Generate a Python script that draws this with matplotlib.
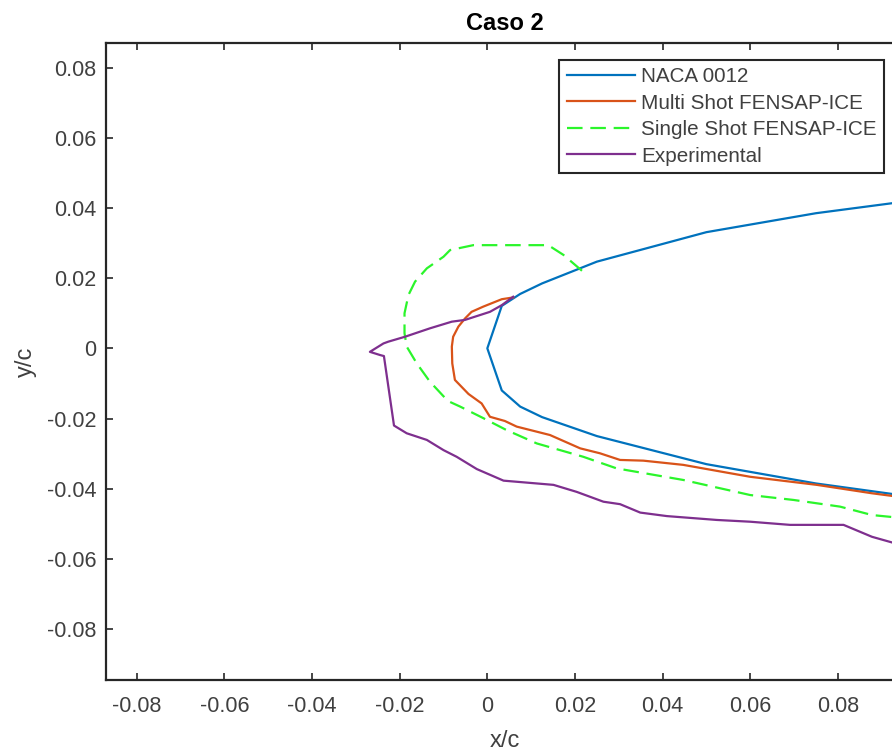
import matplotlib
matplotlib.use("Agg")
import matplotlib.pyplot as plt

plt.rcParams['font.family'] = ['Liberation Sans', 'DejaVu Sans']

# NACA 0012 contour (upper trailing -> leading edge -> lower trailing)
nacaX = [0.100, 0.075, 0.050, 0.025, 0.0125, 0.0075, 0.0033, 0.0,
         0.0033, 0.0075, 0.0125, 0.025, 0.050, 0.075, 0.100]
nacaY = [0.0426, 0.0385, 0.0331, 0.0247, 0.0185, 0.0155, 0.0121, 0.0,
         -0.0120, -0.0166, -0.0196, -0.0250, -0.0330, -0.0385, -0.0428]

multiX = [0.0059, 0.0033, -0.0009, -0.0036, -0.0051, -0.0066, -0.0078, -0.0081,
          -0.0080, -0.0074, -0.0043, -0.0013, 0.0006, 0.0040, 0.0067, 0.0143,
          0.0212, 0.0257, 0.0303, 0.0356, 0.0447, 0.0600, 0.0752, 0.0878, 0.100]
multiY = [0.0145, 0.0140, 0.0119, 0.0104, 0.0085, 0.0062, 0.0033, 0.0005,
          -0.0043, -0.0090, -0.0130, -0.0157, -0.0195, -0.0207, -0.0223, -0.0247,
          -0.0285, -0.0299, -0.0318, -0.0320, -0.0332, -0.0366, -0.0389, -0.0413, -0.0433]

singleX = [0.0216, 0.0174, 0.0139, 0.0082, -0.0032, -0.0085, -0.0100, -0.0138,
           -0.0165, -0.0180, -0.0189, -0.0189, -0.0184, -0.0161, -0.0131, -0.0090,
           -0.0062, -0.0009, 0.0044, 0.0113, 0.0219, 0.0295, 0.0447, 0.0600,
           0.0699, 0.0805, 0.0878, 0.100]
singleY = [0.0221, 0.0266, 0.0294, 0.0294, 0.0294, 0.0280, 0.0261, 0.0228,
           0.0190, 0.0152, 0.0100, 0.0043, 0.0005, -0.0043, -0.0095, -0.0150,
           -0.0166, -0.0199, -0.0233, -0.0271, -0.0309, -0.0342, -0.0375, -0.0418,
           -0.0432, -0.0451, -0.0475, -0.0490]

expX = [0.0059, 0.0033, 0.0006, -0.0051, -0.0081, -0.0131, -0.0188, -0.0226,
        -0.0237, -0.0268, -0.0245, -0.0236, -0.0213, -0.0184, -0.0138, -0.0100,
        -0.0070, -0.0024, 0.0037, 0.0151, 0.0204, 0.0265, 0.0303, 0.0349,
        0.0410, 0.0524, 0.0600, 0.0691, 0.0813, 0.0878, 0.100]
expY = [0.0147, 0.0123, 0.0104, 0.0081, 0.0076, 0.0057, 0.0033, 0.0019,
        0.0014, -0.0010, -0.0019, -0.0022, -0.0220, -0.0242, -0.0261, -0.0290,
        -0.0309, -0.0344, -0.0377, -0.0389, -0.0409, -0.0437, -0.0444, -0.0468,
        -0.0478, -0.0489, -0.0494, -0.0503, -0.0503, -0.0537, -0.0580]

ticks = [-0.08, -0.06, -0.04, -0.02, 0, 0.02, 0.04, 0.06, 0.08]
tickLabels = ['-0.08', '-0.06', '-0.04', '-0.02', '0', '0.02', '0.04', '0.06', '0.08']

axisColor = '#262626'
textColor = '#404040'

fig = plt.figure(figsize=(8.92, 7.51), dpi=100)
ax = fig.add_axes([105.7 / 892, 71 / 751, (904 - 105.7) / 892, 637 / 751])

ax.plot(nacaX, nacaY, color='#0072BD', lw=1.6, label='NACA 0012')
ax.plot(multiX, multiY, color='#D95319', lw=1.6, label='Multi Shot FENSAP-ICE')
ax.plot(singleX, singleY, color='#2BF52B', lw=1.6, ls=(0, (7, 3.5)), label='Single Shot FENSAP-ICE')
ax.plot(expX, expY, color='#7E2F8E', lw=1.6, label='Experimental')

ax.set_xlim(-0.0871, 0.0951)
ax.set_ylim(-0.0945, 0.087)
ax.set_xticks(ticks)
ax.set_xticklabels(tickLabels)
ax.set_yticks(ticks)
ax.set_yticklabels(tickLabels)
ax.tick_params(direction='in', top=True, right=True, length=5, width=1.2,
               color=axisColor, labelcolor=textColor, labelsize=15.5)
ax.tick_params(axis='x', pad=11.5)
ax.tick_params(axis='y', pad=6.5)
for side in ax.spines.values():
    side.set_color(axisColor)
    side.set_linewidth(1.6)

ax.set_title('Caso 2', fontsize=17, fontweight='bold', color='black', pad=9)
ax.set_xlabel('x/c', fontsize=17, color=textColor, labelpad=9.5)
ax.set_ylabel('y/c', fontsize=17, color=textColor, labelpad=7)

leg = ax.legend(loc='upper right', bbox_to_anchor=(884 / 892, 1 - 60 / 751),
                bbox_transform=fig.transFigure, fontsize=14.9, fancybox=False,
                framealpha=1, edgecolor=axisColor, handlelength=3.3,
                handletextpad=0.3, labelspacing=0.36, borderpad=0.35,
                borderaxespad=0)
leg.get_frame().set_linewidth(1.5)
for t in leg.get_texts():
    t.set_color(textColor)

fig.savefig('out.png', dpi=100)
